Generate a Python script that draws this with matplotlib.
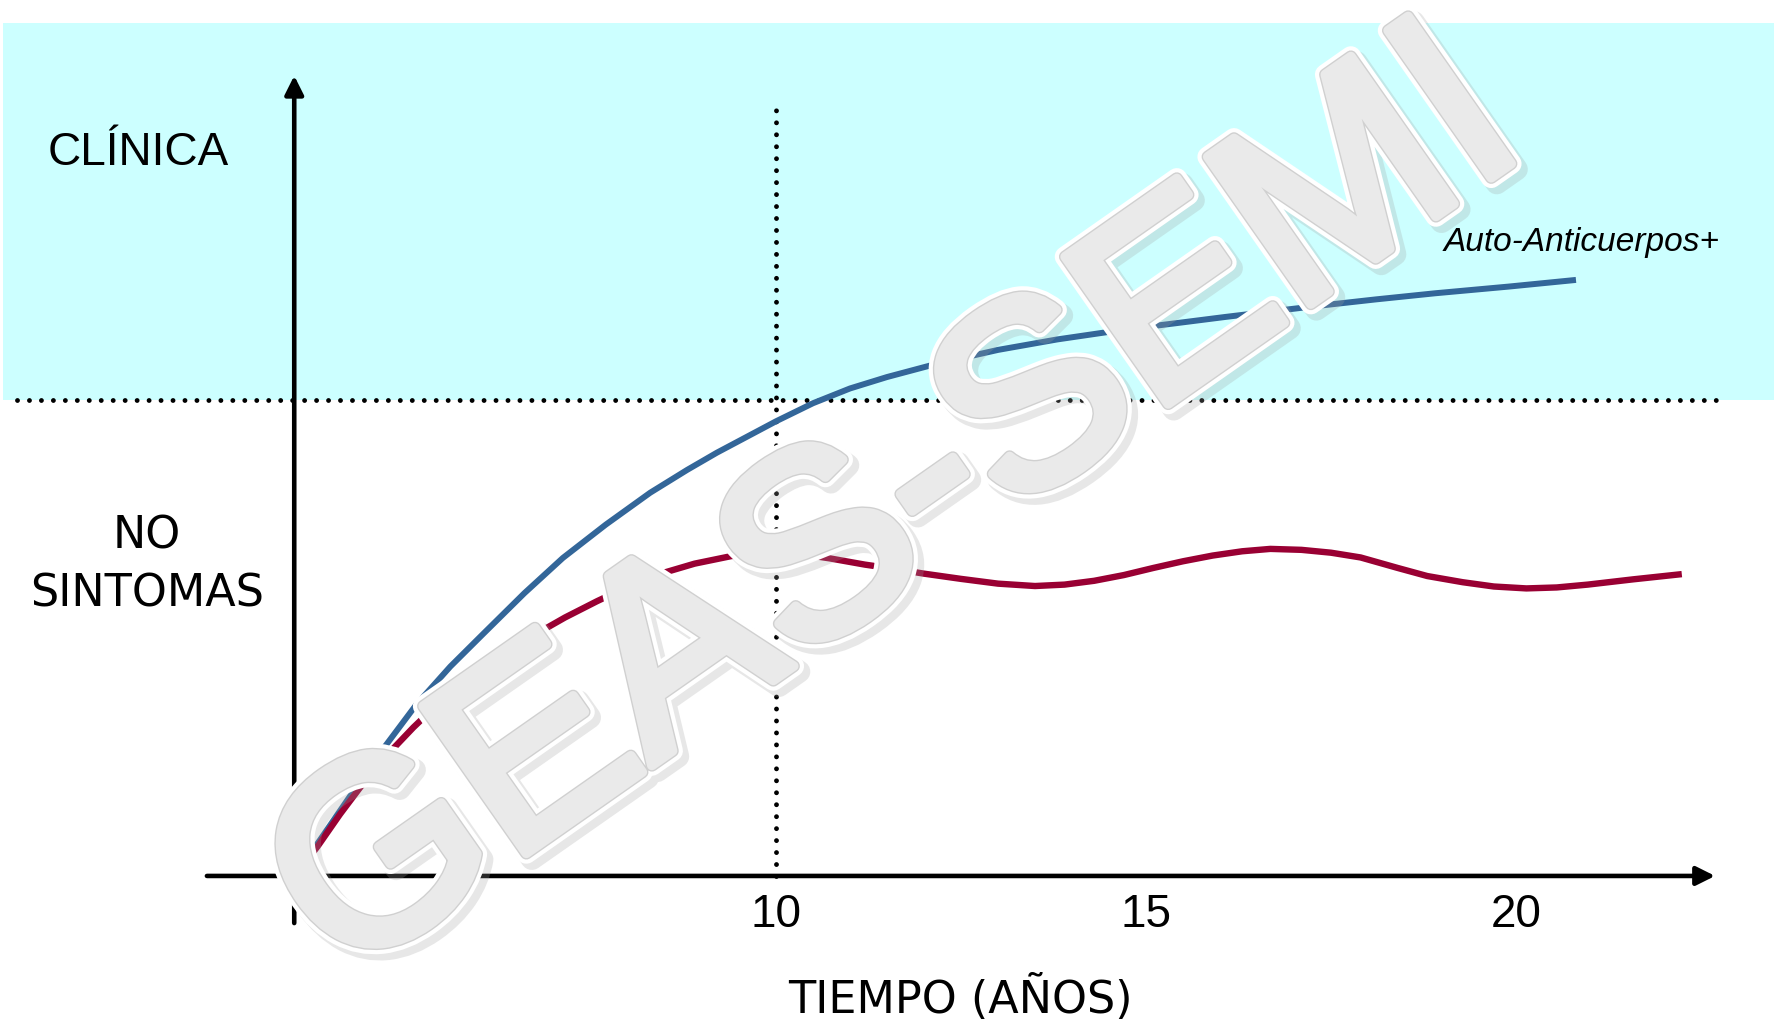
import matplotlib
matplotlib.use('Agg')
import matplotlib.pyplot as plt
import matplotlib.patheffects as pe

# Años desde el inicio y nivel (0 = sin síntomas, 1 = umbral clínico)
anti_years = [3.50, 3.84, 4.14, 4.60, 5.14, 5.60, 6.04, 6.60, 7.12, 7.70, 8.30, 8.80,
              9.20, 9.60, 10.00, 10.50, 11.00, 11.50, 12.20, 13.00, 13.80, 14.68,
              15.40, 16.06, 16.70, 17.35, 18.10, 18.91, 19.90, 20.81]
anti_level = [0.000, 0.076, 0.144, 0.248, 0.360, 0.440, 0.508, 0.594, 0.668, 0.738, 0.805, 0.853,
              0.889, 0.922, 0.955, 0.993, 1.024, 1.048, 1.077, 1.105, 1.127, 1.147,
              1.161, 1.174, 1.186, 1.198, 1.211, 1.224, 1.238, 1.252]

sint_years = [3.50, 3.81, 4.11, 4.42, 4.72, 5.10, 5.45, 5.80, 6.25, 6.72, 7.15, 7.58,
              8.00, 8.42, 8.90, 9.40, 9.85, 10.30, 10.73, 11.20, 11.60, 12.00, 12.50,
              13.00, 13.50, 13.90, 14.30, 14.70, 15.10, 15.50, 15.90, 16.30, 16.68,
              17.10, 17.50, 17.90, 18.40, 18.80, 19.28, 19.70, 20.14, 20.55, 20.97,
              21.58, 22.24]
sint_level = [0.000, 0.063, 0.130, 0.194, 0.250, 0.312, 0.364, 0.410, 0.460, 0.505, 0.543, 0.577,
              0.608, 0.634, 0.656, 0.672, 0.679, 0.677, 0.667, 0.654, 0.645, 0.635, 0.624,
              0.614, 0.609, 0.612, 0.620, 0.632, 0.647, 0.661, 0.673, 0.682, 0.687,
              0.685, 0.679, 0.669, 0.647, 0.630, 0.617, 0.608, 0.604, 0.606, 0.612,
              0.623, 0.634]

tick_years = [10, 15, 20]
tick_labels = ['10', '15', '20']

narrow = ['Liberation Sans Narrow', 'Liberation Sans', 'DejaVu Sans']

fig = plt.figure(figsize=(17.78, 10.24), dpi=100)
ax = fig.add_axes([0, 0, 1, 1])
ax.set_xlim(-0.486, 23.54)
ax.set_ylim(-0.311, 1.840)
ax.axis('off')

# zona clínica
ax.axhspan(1.0, 1.792, xmin=0.0017, xmax=0.998, color='#CCFFFF', lw=0, zorder=0)

# líneas punteadas: umbral clínico y año 10
dots = dict(color='black', lw=3.5, ls=(0, (0.001, 2.46)), dash_capstyle='round', zorder=2)
ax.plot([-0.26, 22.70], [1, 1], **dots)
ax.plot([10, 10], [0, 1.63], **dots)

# ejes con flecha
arrow = dict(arrowstyle='-|>,head_length=0.4,head_width=0.2', color='black', lw=3.3,
             mutation_scale=28, shrinkA=0, shrinkB=0)
ax.annotate('', xy=(22.69, 0), xytext=(2.31, 0), arrowprops=arrow, zorder=2.5)
ax.annotate('', xy=(3.49, 1.681), xytext=(3.49, -0.099), arrowprops=arrow, zorder=2.5)

# curvas
ax.plot(anti_years, anti_level, color='#336699', lw=4.3, solid_capstyle='butt',
        solid_joinstyle='round', zorder=3)
ax.plot(sint_years, sint_level, color='#990033', lw=4.6, solid_capstyle='butt',
        solid_joinstyle='round', zorder=3)

# textos
for x, lab in zip(tick_years, tick_labels):
    ax.text(x, -0.107, lab, ha='center', va='baseline', fontsize=33, family=narrow)
ax.text(1.378, 1.494, 'CLÍNICA', ha='center', va='baseline', fontsize=33, family=narrow)
ax.text(1.50, 0.687, 'NO', ha='center', va='baseline', fontsize=32)
ax.text(1.50, 0.565, 'SINTOMAS', ha='center', va='baseline', fontsize=32)
ax.text(12.49, -0.288, 'TIEMPO (AÑOS)', ha='center', va='baseline', fontsize=32)
ax.text(19.02, 1.313, 'Auto-Anticuerpos+', ha='left', va='baseline', fontsize=24,
        style='italic', family=narrow)

# marca de agua
ax.text(12.17, 0.651, 'GEAS-SEMI', ha='center', va='baseline', rotation=35,
        rotation_mode='anchor', fontsize=188,
        family=['Liberation Sans', 'DejaVu Sans'], color='#EAEAEA', zorder=10,
        path_effects=[pe.Stroke(offset=(4, -4), linewidth=16, foreground='#A0A0A0', alpha=0.25),
                      pe.Stroke(linewidth=15, foreground='white'),
                      pe.Stroke(linewidth=9, foreground='#D0D0D0'),
                      pe.Stroke(linewidth=7, foreground='#EAEAEA'),
                      pe.Normal()])

fig.savefig('out.png', dpi=100)
